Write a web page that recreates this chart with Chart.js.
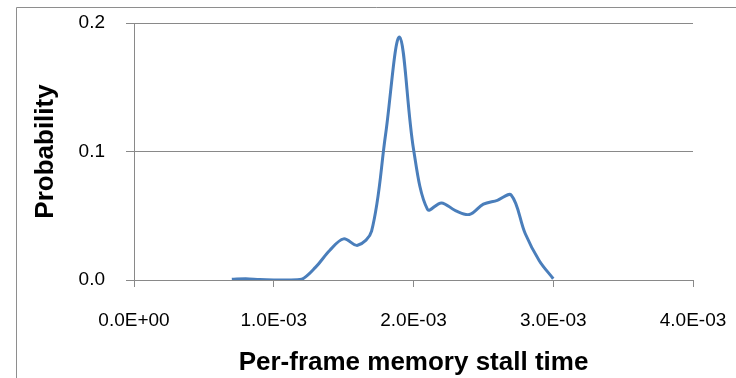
<!DOCTYPE html>
<html>
<head>
<meta charset="utf-8">
<script src="https://cdn.jsdelivr.net/npm/chart.js@4/dist/chart.umd.min.js"></script>
<style>
  html, body { margin: 0; padding: 0; background: #fff; }
  #wrap { width: 736px; height: 378px; }
</style>
</head>
<body>
<div id="wrap"><canvas id="grafico" width="736" height="378"></canvas></div>
<script>
// stall time bins (seconds) and their probability
const tempos = [0.0007, 0.0008, 0.0009, 0.0010, 0.0011, 0.0012, 0.0013, 0.0014,
                0.0015, 0.0016, 0.0017, 0.0018, 0.0019, 0.0020, 0.0021, 0.0022,
                0.0023, 0.0024, 0.0025, 0.0026, 0.0027, 0.0028, 0.0029, 0.0030]
const probabilidades = [0.0005, 0.001, 0.0003, 0.0, 0.0, 0.0005, 0.010, 0.023,
                        0.032, 0.027, 0.038, 0.113, 0.189, 0.102, 0.055, 0.060,
                        0.054, 0.051, 0.059, 0.062, 0.066, 0.036, 0.015, 0.001]
const x_ticks = [0, 0.001, 0.002, 0.003, 0.004]
const y_ticks = [0, 0.1, 0.2]

const fonte = "'Liberation Sans', Arial, sans-serif"
const cinza = '#898989'

const formatar_exp = v => {
  const [m, e] = Number(v).toExponential(1).split('e')
  const sinal = e[0] === '-' ? '-' : '+'
  return `${m}E${sinal}${e.replace(/[+-]/, '').padStart(2, '0')}`
}

const borda_grafico = {
  id: 'borda_grafico',
  beforeDraw(chart) {
    const ctx = chart.ctx
    ctx.save()
    ctx.fillStyle = '#fff'
    ctx.fillRect(0, 0, chart.width, chart.height)
    ctx.strokeStyle = '#8e8e8e'
    ctx.lineWidth = 1
    ctx.beginPath()
    ctx.moveTo(16.5, chart.height)
    ctx.lineTo(16.5, 7.5)
    ctx.lineTo(chart.width, 7.5)
    ctx.stroke()
    ctx.restore()
  }
}

const pontos = tempos.map((t, i) => ({ x: t, y: probabilidades[i] }))

new Chart(document.getElementById('grafico'), {
  type: 'line',
  data: {
    datasets: [{
      data: pontos,
      borderColor: '#4a7ebb',
      borderWidth: 3,
      pointRadius: 0,
      tension: 0.35,
      fill: false
    }]
  },
  options: {
    responsive: false,
    animation: false,
    layout: { padding: { top: 23, right: 43, left: 0, bottom: 0 } },
    plugins: { legend: { display: false }, tooltip: { enabled: false } },
    scales: {
      x: {
        type: 'linear',
        min: 0,
        max: 0.004,
        afterFit: scale => {
          scale.height = 98
          scale.paddingLeft = 0
          scale.paddingRight = 0
        },
        afterBuildTicks: scale => { scale.ticks = x_ticks.map(v => ({ value: v })) },
        grid: { drawOnChartArea: false, color: cinza, tickLength: 7 },
        border: { color: cinza },
        ticks: {
          padding: 22,
          color: '#000',
          maxRotation: 0,
          font: { family: fonte, size: 19 },
          callback: v => formatar_exp(v)
        },
        title: {
          display: true,
          text: 'Per-frame memory stall time',
          color: '#000',
          padding: { top: 0, bottom: 0 },
          font: { family: fonte, size: 26, weight: 'bold' }
        }
      },
      y: {
        min: 0,
        max: 0.2,
        afterFit: scale => {
          scale.width = 134
          scale.paddingTop = 0
          scale.paddingBottom = 0
        },
        afterBuildTicks: scale => { scale.ticks = y_ticks.map(v => ({ value: v })) },
        grid: { color: cinza, tickLength: 8 },
        border: { color: cinza },
        ticks: {
          padding: 21,
          color: '#000',
          font: { family: fonte, size: 19 },
          callback: v => Number(v).toFixed(1)
        },
        title: {
          display: true,
          text: 'Probability',
          color: '#000',
          padding: { top: 30, bottom: 0 },
          font: { family: fonte, size: 26, weight: 'bold' }
        }
      }
    }
  },
  plugins: [borda_grafico]
})
</script>
</body>
</html>
